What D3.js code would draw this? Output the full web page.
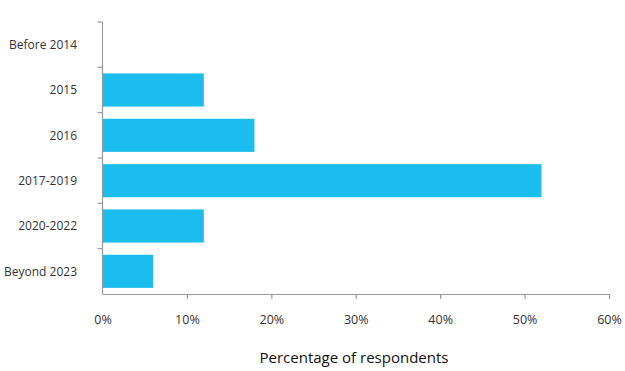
<!DOCTYPE html>
<html>
<head>
<meta charset="utf-8">
<script src="https://cdn.jsdelivr.net/npm/d3@7"></script>
<style>
  body { margin: 0; background: #fff; }
  text { font-family: "Open Sans", sans-serif; }
</style>
</head>
<body>
<div id="vis"></div>
<script>
const categories = ['Before 2014', '2015', '2016', '2017-2019', '2020-2022', 'Beyond 2023'];
const shares = [0, 12, 18, 52, 12, 6];
const xTicks = [0, 10, 20, 30, 40, 50, 60];

const width = 625;
const height = 371;
const margin = { top: 22, right: 16, bottom: 77, left: 102.5 };

const svg = d3.select('#vis')
  .append('svg')
  .attr('width', width)
  .attr('height', height);

const x = d3.scaleLinear()
  .domain([0, 60])
  .range([margin.left, width - margin.right]);

const y = d3.scaleBand()
  .domain(categories)
  .range([margin.top, height - margin.bottom])
  .paddingInner(0.27)
  .paddingOuter(0.135);

// bars
svg.append('g')
  .selectAll('rect')
  .data(shares)
  .join('rect')
  .attr('x', x(0))
  .attr('y', (d, i) => y(categories[i]))
  .attr('width', d => x(d) - x(0))
  .attr('height', y.bandwidth())
  .attr('fill', '#1bbcee');

// y axis: line + ticks between categories
const yAxis = svg.append('g');
yAxis.append('line')
  .attr('x1', x(0)).attr('x2', x(0))
  .attr('y1', margin.top).attr('y2', height - margin.bottom)
  .attr('stroke', '#999').attr('stroke-width', 1.2);

const bandStep = (height - margin.bottom - margin.top) / categories.length;
yAxis.selectAll('.ytick')
  .data(categories)
  .join('line')
  .attr('class', 'ytick')
  .attr('x1', x(0) - 5).attr('x2', x(0))
  .attr('y1', (d, i) => margin.top + i * bandStep)
  .attr('y2', (d, i) => margin.top + i * bandStep)
  .attr('stroke', '#999').attr('stroke-width', 1.2);

yAxis.selectAll('.ylab')
  .data(categories)
  .join('text')
  .attr('class', 'ylab')
  .attr('x', 77)
  .attr('y', d => y(d) + y.bandwidth() / 2)
  .attr('dy', '0.36em')
  .attr('text-anchor', 'end')
  .attr('font-size', '12px')
  .attr('fill', '#333')
  .text(d => d);

// x axis
const xAxis = svg.append('g')
  .attr('transform', 'translate(0,' + (height - margin.bottom) + ')')
  .call(d3.axisBottom(x)
    .tickValues(xTicks)
    .tickFormat(d => d + '%')
    .tickSizeInner(5)
    .tickSizeOuter(0)
    .tickPadding(16));

xAxis.select('.domain').attr('stroke', '#999').attr('stroke-width', 1.2);
xAxis.selectAll('.tick line').attr('stroke', '#999').attr('stroke-width', 1.2);
xAxis.selectAll('.tick').filter(d => d === 0).select('line').remove();
xAxis.selectAll('.tick text')
  .attr('font-family', '"Open Sans", sans-serif')
  .attr('font-size', '12.5px')
  .attr('fill', '#333');

// axis title
svg.append('text')
  .attr('x', 354)
  .attr('y', 363)
  .attr('text-anchor', 'middle')
  .attr('font-size', '15px')
  .attr('fill', '#111')
  .text('Percentage of respondents');
</script>
</body>
</html>
